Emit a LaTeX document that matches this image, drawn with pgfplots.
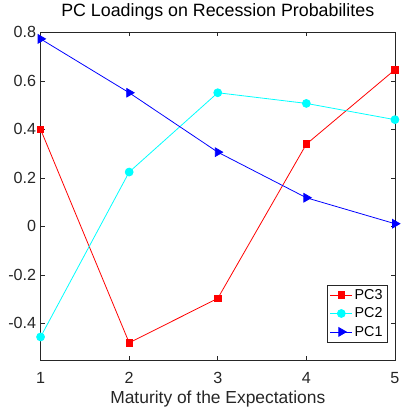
\documentclass[border=0pt]{standalone}
\usepackage{pgfplots}
\pgfplotsset{compat=1.18}
\usepackage{fontspec}
\setmainfont{Liberation Sans}
\definecolor{axgray}{RGB}{38,38,38}
\definecolor{mred}{RGB}{255,0,0}
\definecolor{mcyan}{RGB}{0,255,255}
\definecolor{mblue}{RGB}{0,0,255}
\begin{document}
\begin{tikzpicture}[x=1bp,y=1bp]
\begin{axis}[
  name=ax,
  scale only axis,
  width=358bp, height=331bp,
  xmin=1, xmax=5, ymin=-0.551, ymax=0.8,
  xtick={1,2,3,4,5},
  ytick={-0.4,-0.2,0,0.2,0.4,0.6,0.8},
  yticklabels={-0.4,-0.2,0,0.2,0.4,0.6,0.8},
  /pgf/number format/assume math mode=true,
  tick align=inside,
  major tick length=4bp,
  axis line style={axgray, line width=0.6bp},
  tick style={axgray, line width=0.6bp},
  every tick label/.append style={font=\fontsize{16.3bp}{18bp}\selectfont, text=axgray},
  xticklabel style={anchor=center, yshift=-18bp},
  yticklabel style={anchor=east, xshift=-1bp},
  title={PC Loadings on Recession Probabilites},
  title style={font=\fontsize{18bp}{20bp}\selectfont, at={(axis description cs:0.5,1)}, anchor=center, yshift=15bp},
  xlabel={Maturity of the Expectations},
  xlabel style={font=\fontsize{17.6bp}{20bp}\selectfont, text=axgray, at={(axis description cs:0.5,0)}, anchor=center, yshift=-39bp},
  legend style={at={(0.978,0.054)}, anchor=south east, font=\fontsize{14.5bp}{16bp}\selectfont, draw=axgray, inner sep=2.5bp, row sep=3bp},
  legend cell align=left,
  legend image code/.code={\draw[#1] (0bp,0bp) -- (22bp,0bp); \draw[#1, only marks] plot coordinates {(11bp,0bp)};},
]
\addplot[mred, line width=0.8bp, mark=square*, mark size=3.3bp, mark options={solid, fill=mred}] coordinates {(1,0.40) (2,-0.48) (3,-0.297) (4,0.339) (5,0.646)};
\addlegendentry{PC3}
\addplot[mcyan, line width=0.8bp, mark=*, mark size=4bp, mark options={solid, fill=mcyan}] coordinates {(1,-0.456) (2,0.224) (3,0.551) (4,0.507) (5,0.44)};
\addlegendentry{PC2}
\addplot[mblue, line width=0.8bp, mark=triangle*, mark size=5bp, mark options={solid, fill=mblue, rotate=-90}] coordinates {(1,0.773) (2,0.551) (3,0.306) (4,0.118) (5,0.011)};
\addlegendentry{PC1}
\end{axis}
\path[use as bounding box] ([xshift=-41bp,yshift=-50bp]ax.south west) rectangle ([xshift=5bp,yshift=29bp]ax.north east);
\end{tikzpicture}
\end{document}
